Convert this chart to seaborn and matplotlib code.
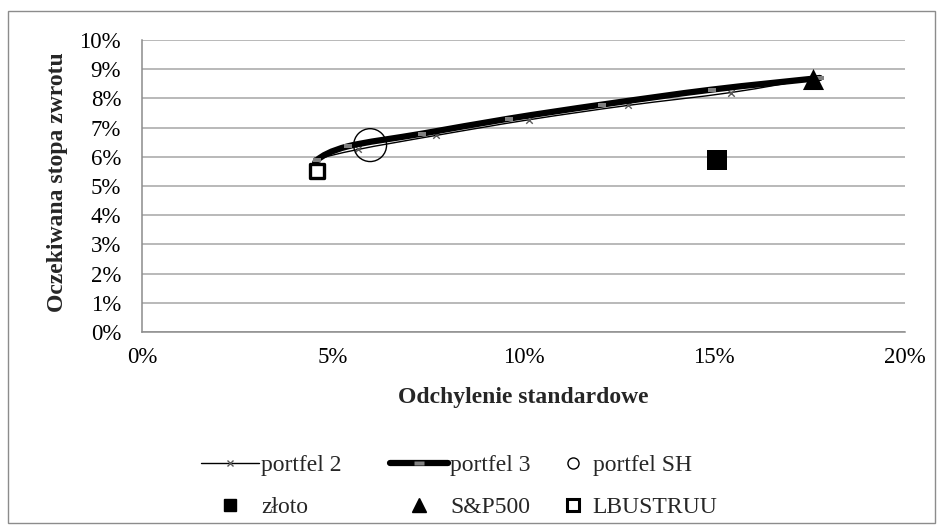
import numpy as np
import matplotlib
matplotlib.use("Agg")
import matplotlib.pyplot as plt
import seaborn as sns
from matplotlib.path import Path
from matplotlib.patches import PathPatch, Rectangle
from matplotlib.lines import Line2D
from matplotlib.ticker import PercentFormatter

# --- data (standard deviation vs expected return, in %) ---
p2_sd = [4.60, 4.58, 5.66, 7.70, 10.15, 12.74, 15.43, 17.60]
p2_ret = [5.50, 5.88, 6.25, 6.73, 7.27, 7.76, 8.20, 8.68]

p3_sd = [4.65, 4.58, 5.40, 7.33, 9.63, 12.07, 14.93, 17.77]
p3_ret = [5.50, 5.88, 6.36, 6.79, 7.31, 7.79, 8.30, 8.70]

sh_sd, sh_ret = [5.98], [6.40]
zloto_sd, zloto_ret = [15.07], [5.90]
sp_sd, sp_ret = [17.59], [8.68]
lb_sd, lb_ret = [4.60], [5.50]

x_ticks = [0, 5, 10, 15, 20]
y_ticks = list(range(0, 11))

sns.set_theme(style="white")
plt.rcParams["font.family"] = ["Liberation Serif", "DejaVu Serif"]

W, H = 943, 532
fig = plt.figure(figsize=(W / 100, H / 100), dpi=100)
ax = fig.add_axes([142 / W, 1 - 332 / H, (905 - 142) / W, (332 - 40) / H])

GRID = "#a6a6a6"
AXC = "#8c8c8c"


def smooth_path(xs, ys):
    """Catmull-Rom style smoothing expressed as cubic Bezier segments."""
    pts = np.column_stack([xs, ys]).astype(float)
    n = len(pts)
    verts = [tuple(pts[0])]
    codes = [Path.MOVETO]
    for i in range(n - 1):
        p0 = pts[i - 1] if i > 0 else pts[i]
        p1 = pts[i]
        p2 = pts[i + 1]
        p3 = pts[i + 2] if i + 2 < n else pts[i + 1]
        c1 = p1 + (p2 - p0) / 6.0
        c2 = p2 - (p3 - p1) / 6.0
        verts += [tuple(c1), tuple(c2), tuple(p2)]
        codes += [Path.CURVE4] * 3
    return Path(verts, codes)


rect_marker = Path([(-1, -0.45), (1, -0.45), (1, 0.45), (-1, 0.45), (-1, -0.45)],
                   [Path.MOVETO, Path.LINETO, Path.LINETO, Path.LINETO, Path.CLOSEPOLY])

# portfel 2: thin smoothed line with x markers
ax.add_patch(PathPatch(smooth_path(p2_sd, p2_ret), fill=False, ec="black", lw=1.0, zorder=3))
sns.scatterplot(x=p2_sd, y=p2_ret, marker="x", s=22, color="#595959", linewidth=1.0, ax=ax, zorder=3)

# portfel 3: thick smoothed line with grey bar markers
ax.add_patch(PathPatch(smooth_path(p3_sd, p3_ret), fill=False, ec="black", lw=4.5,
                       capstyle="round", joinstyle="round", zorder=4))
sns.scatterplot(x=p3_sd, y=p3_ret, marker=rect_marker, s=40, color="#808080", linewidth=0, ax=ax, zorder=5)

# single assets / portfolios
sns.scatterplot(x=sh_sd, y=sh_ret, marker="o", s=560, facecolor="none", edgecolor="black",
                linewidth=1.0, ax=ax, zorder=6)
sns.scatterplot(x=zloto_sd, y=zloto_ret, marker="s", s=210, color="black", linewidth=0, ax=ax, zorder=6)
sns.scatterplot(x=sp_sd, y=sp_ret, marker="^", s=230, color="black", linewidth=0, ax=ax, zorder=6)
sns.scatterplot(x=lb_sd, y=lb_ret, marker="s", s=95, facecolor="white", edgecolor="black",
                linewidth=2.4, ax=ax, zorder=7)

# axes styling
ax.set_xlim(0, 20)
ax.set_ylim(0, 10)
ax.set_xticks(x_ticks)
ax.set_yticks(y_ticks)
ax.xaxis.set_major_formatter(PercentFormatter(decimals=0))
ax.yaxis.set_major_formatter(PercentFormatter(decimals=0))
ax.grid(False)
ax.yaxis.grid(True, color=GRID, lw=1.1)
ax.set_axisbelow(True)
for side in ("top", "right"):
    ax.spines[side].set_visible(False)
for side in ("left", "bottom"):
    ax.spines[side].set_color(AXC)
    ax.spines[side].set_linewidth(1.1)
ax.tick_params(axis="both", which="major", direction="out", length=5, width=1.0,
               color=AXC, labelsize=16.5, labelcolor="black")
ax.tick_params(axis="y", pad=10)
ax.tick_params(axis="x", pad=6)

ax.set_xlabel("Odchylenie standardowe", fontsize=17, fontweight="bold")
ax.set_ylabel("Oczekiwana stopa zwrotu", fontsize=17, fontweight="bold")
ax.xaxis.set_label_coords(0.5, -0.19)
ax.yaxis.set_label_coords(-0.097, 0.514)

# legend: three columns, each with its own handle width
h_p2 = Line2D([], [], color="black", lw=1.0, marker="x", ms=5, mec="#595959", mew=1.0)
h_p3 = Line2D([], [], color="black", lw=4.5, marker=rect_marker, ms=7, mfc="#808080", mec="none")
h_sh = Line2D([], [], ls="", marker="o", ms=8, mfc="none", mec="black", mew=1.0)
h_zl = Line2D([], [], ls="", marker="s", ms=9, color="black")
h_sp = Line2D([], [], ls="", marker="^", ms=10, color="black")
h_lb = Line2D([], [], ls="", marker="s", ms=8, mfc="white", mec="black", mew=2.2)

legend_cols = [
    ([h_p2, h_zl], ["portfel 2", "złoto"], 201, 2.45),
    ([h_p3, h_sp], ["portfel 3", "S&P500"], 390, 2.45),
    ([h_sh, h_lb], ["portfel SH", "LBUSTRUU"], 555, 1.5),
]
for hs, ls, x0, hl in legend_cols:
    fig.legend(hs, ls, loc="center left", bbox_to_anchor=(x0 / W, 1 - 486.5 / H),
               frameon=False, fontsize=17, handlelength=hl, handletextpad=0.1,
               labelspacing=0.85, borderpad=0, borderaxespad=0)

# outer chart border
fig.add_artist(Rectangle((8 / W, 1 - 523 / H), (935 - 8) / W, (523 - 11) / H,
                         transform=fig.transFigure, fill=False, ec=AXC, lw=1.0))

fig.savefig("out.png", dpi=100)
